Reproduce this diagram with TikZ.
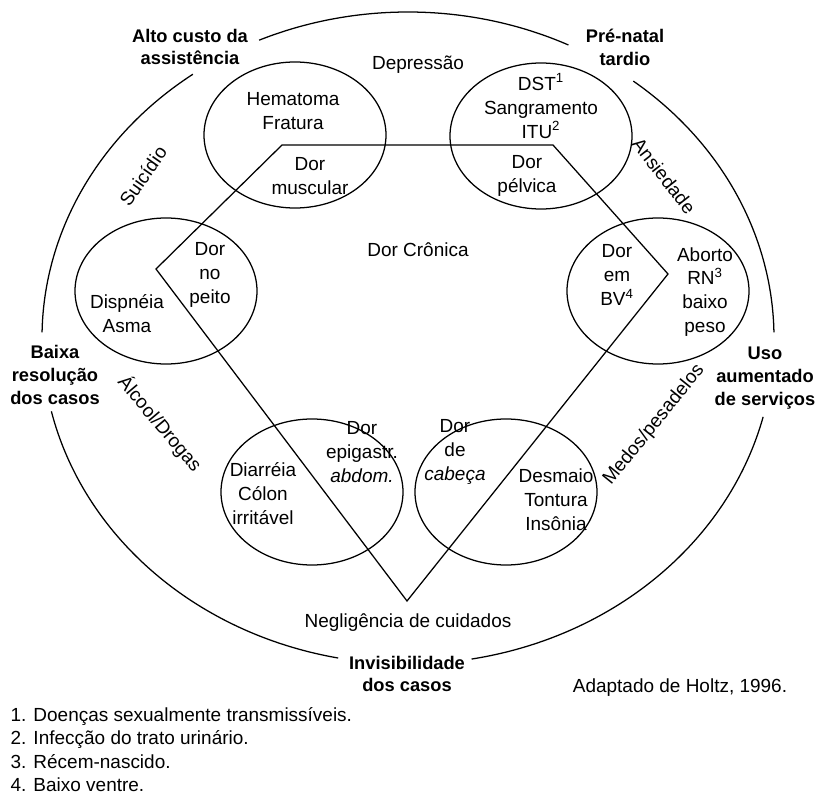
\documentclass[tikz,border=0pt]{standalone}
\usepackage{fontspec}
\setmainfont{Liberation Sans}
\begin{document}
\begin{tikzpicture}[x=0.25mm, y=-0.25mm, line width=0.9pt,
    every node/.style={font=\fontsize{13.5}{17}\selectfont, align=center, inner sep=0pt},
    outerlabel/.style={font=\fontsize{13}{16.3}\selectfont\bfseries},
    footnote/.style={anchor=west}]

    \useasboundingbox (0,0) rectangle (815,797);

    % outer ring, broken at the labels
    \coordinate (ctr) at (408,338);
    \foreach \a/\b in {-64/-114, -126/-179, -193/-259, -280/-346, -1/-52} {
        \draw (ctr) ++(\a:366 and 326) arc[start angle=\a, end angle=\b, x radius=366, y radius=326];
    }

    \node[outerlabel] (custo) at (190,47) {Alto custo da\\assistência};
    \node[outerlabel] (prenatal) at (625,47) {Pré-natal\\tardio};
    \node[outerlabel] (baixa) at (55,375) {Baixa\\resolução\\dos casos};
    \node[outerlabel] (uso) at (765,378) {Uso\\aumentado\\de serviços};
    \node[outerlabel] (invis) at (407,674) {Invisibilidade\\dos casos};

    % six circles
    \foreach \name/\cx/\cy in {musc/295/135, pelv/541/136, peito/166/291,
                                bv/658/291, epig/312/492, cab/506/492} {
        \coordinate (\name) at (\cx,\cy);
        \draw (\name) ellipse[x radius=91, y radius=73];
    }

    % pentagon
    \coordinate (pL) at (156,269);
    \coordinate (pTL) at (282,145);
    \coordinate (pTR) at (553,145);
    \coordinate (pR) at (668,274);
    \coordinate (pB) at (407,601);
    \draw (pL) -- (pTL) -- (pTR) -- (pR) -- (pB) -- cycle;

    % texts in the circles
    \node (hema) at (293,111) {Hematoma\\Fratura};
    \node (dormusc) at (310,176) {Dor\\muscular};
    \node (dst) at (541,106) {DST\textsuperscript{1}\\Sangramento\\ITU\textsuperscript{2}};
    \node (dorpelv) at (527,176) {Dor\\pélvica};
    \node (dorpeito) at (210,275) {Dor\\no\\peito};
    \node (dispneia) at (127,314) {Dispnéia\\Asma};
    \node (dorbv) at (617,275) {Dor\\em\\BV\textsuperscript{4}};
    \node (aborto) at (705,292) {Aborto\\RN\textsuperscript{3}\\baixo\\peso};
    \node (dorepig) at (362,452) {Dor\\epigastr.\\\textit{abdom.}};
    \node (diarreia) at (263,494) {Diarréia\\Cólon\\irritável};
    \node (dorcab) at (455,452) {Dor\\de\\\textit{cabeça}};
    \node (desmaio) at (556,500) {Desmaio\\Tontura\\Insônia};

    % free texts
    \node (depr) at (418,65) {Depressão};
    \node (cronica) at (418,250) {Dor Crônica};
    \node[rotate=55] (suic) at (143,176) {Suicídio};
    \node[rotate=-52] (ansi) at (664,176) {Ansiedade};
    \node[rotate=-50] (alcool) at (160,424) {Álcool/Drogas};
    \node[rotate=51] (medos) at (654,425) {Medos/pesadelos};
    \node (negl) at (408,623) {Negligência de cuidados};
    \node (fonte) at (680,688) {Adaptado de Holtz, 1996.};

    % footnotes
    \node[footnote] (n1) at (10,717) {1. Doenças sexualmente transmissíveis.};
    \node[footnote] (n2) at (10,740) {2. Infecção do trato urinário.};
    \node[footnote] (n3) at (10,762) {3. Récem-nascido.};
    \node[footnote] (n4) at (10,785) {4. Baixo ventre.};

\end{tikzpicture}
\end{document}
